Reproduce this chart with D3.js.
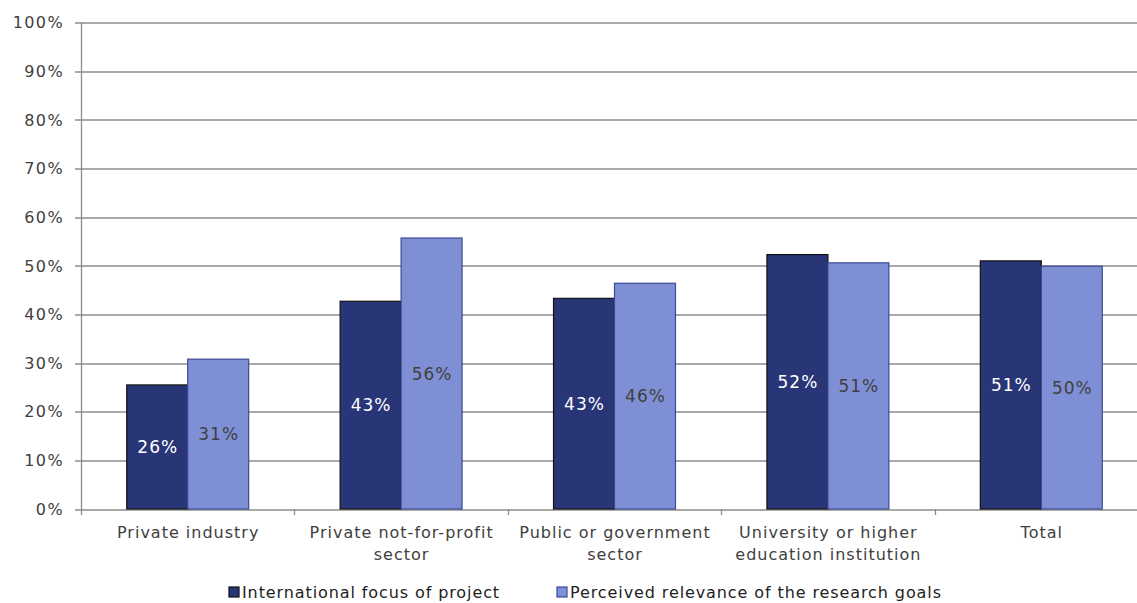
<!DOCTYPE html>
<html>
<head>
<meta charset="utf-8">
<script src="https://cdn.jsdelivr.net/npm/d3@7"></script>
<style>
  body { margin: 0; background: #fff; overflow: hidden; }
  svg { display: block; font-family: "DejaVu Sans", Verdana, sans-serif; }
</style>
</head>
<body>
<svg id="chart" width="1137" height="603"></svg>
<script>
// data
var categories = [
    ["Private industry"],
    ["Private not-for-profit", "sector"],
    ["Public or government", "sector"],
    ["University or higher", "education institution"],
    ["Total"]
];
var seriesNames = ["International focus of project", "Perceived relevance of the research goals"];
var focus = [25.5, 42.7, 43.3, 52.3, 51.0];
var relevance = [30.8, 55.7, 46.4, 50.6, 49.9];
var focusLabels = ["26%", "43%", "43%", "52%", "51%"];
var relevanceLabels = ["31%", "56%", "46%", "51%", "50%"];
var yTicks = [0, 10, 20, 30, 40, 50, 60, 70, 80, 90, 100];

var fills = ["#283577", "#7f8fd5"];
var strokes = ["#111111", "#3b4a95"];
var textCols = ["#ffffff", "#404040"];

var margin = {left: 81, top: 22.5};
var plotW = 1067, plotH = 486.5;

var svg = d3.select("#chart");
var g = svg.append("g").attr("transform", "translate(" + margin.left + "," + margin.top + ")");

var x = d3.scaleBand()
    .domain(d3.range(categories.length))
    .range([0, plotW]);

var x1 = d3.scaleBand()
    .domain([0, 1])
    .range([0, x.bandwidth()])
    .paddingOuter(0.75);

var y = d3.scaleLinear().domain([0, 100]).range([plotH, 0]);

// gridlines
g.append("g")
    .selectAll("line")
    .data(yTicks)
    .enter().append("line")
    .attr("x1", -6).attr("x2", plotW)
    .attr("y1", d => Math.round(y(d)) + 0.5)
    .attr("y2", d => Math.round(y(d)) + 0.5)
    .attr("stroke", "#8c8c8c")
    .attr("stroke-width", 1.3);

// y labels
g.append("g")
    .selectAll("text")
    .data(yTicks)
    .enter().append("text")
    .attr("x", -17)
    .attr("y", d => y(d))
    .attr("dy", "0.36em")
    .attr("text-anchor", "end")
    .attr("font-size", 16)
    .attr("letter-spacing", 1.4)
    .attr("fill", "#404040")
    .text(d => d + "%");

// y axis line
g.append("line")
    .attr("x1", 0.5).attr("x2", 0.5)
    .attr("y1", 0).attr("y2", plotH)
    .attr("stroke", "#8c8c8c").attr("stroke-width", 1.3);

// category ticks
g.append("g")
    .selectAll("line")
    .data(d3.range(categories.length + 1))
    .enter().append("line")
    .attr("x1", d => Math.round(d * x.step()) + 0.5)
    .attr("x2", d => Math.round(d * x.step()) + 0.5)
    .attr("y1", plotH).attr("y2", plotH + 6)
    .attr("stroke", "#8c8c8c").attr("stroke-width", 1.3);

var series = [
    {vals: focus, labels: focusLabels},
    {vals: relevance, labels: relevanceLabels}
];

series.forEach(function(s, si) {
    var grp = g.append("g");
    grp.selectAll("rect")
        .data(s.vals)
        .enter().append("rect")
        .attr("x", (d, i) => x(i) + x1(si))
        .attr("y", d => y(d))
        .attr("width", x1.bandwidth())
        .attr("height", d => plotH - y(d))
        .attr("fill", fills[si])
        .attr("stroke", strokes[si])
        .attr("stroke-width", 1.2);

    grp.selectAll("text")
        .data(s.vals)
        .enter().append("text")
        .attr("x", (d, i) => x(i) + x1(si) + x1.bandwidth() / 2 + 0.5)
        .attr("y", d => (y(d) + plotH) / 2)
        .attr("dy", "0.36em")
        .attr("text-anchor", "middle")
        .attr("font-size", 17)
        .attr("letter-spacing", 1)
        .attr("fill", textCols[si])
        .text((d, i) => s.labels[i]);
});

// category labels
var cat = g.append("g")
    .selectAll("text")
    .data(categories)
    .enter().append("text")
    .attr("x", (d, i) => x(i) + x.bandwidth() / 2 + 0.5)
    .attr("y", plotH + 29)
    .attr("text-anchor", "middle")
    .attr("font-size", 16)
    .attr("letter-spacing", 1)
    .attr("fill", "#404040");

cat.selectAll("tspan")
    .data(d => d)
    .enter().append("tspan")
    .attr("x", function() { return d3.select(this.parentNode).attr("x"); })
    .attr("dy", (d, i) => i === 0 ? 0 : 22)
    .text(d => d);

// legend
var legendX = [229, 557];
var legend = svg.append("g")
    .selectAll("g")
    .data(seriesNames)
    .enter().append("g")
    .attr("transform", (d, i) => "translate(" + legendX[i] + ",587)");

legend.append("rect")
    .attr("width", 10).attr("height", 10)
    .attr("fill", (d, i) => fills[i])
    .attr("stroke", (d, i) => strokes[i])
    .attr("stroke-width", 1.2);

legend.append("text")
    .attr("x", 13)
    .attr("y", 5)
    .attr("dy", "0.36em")
    .attr("font-size", 16)
    .attr("letter-spacing", 0.9)
    .attr("fill", "#222")
    .text(d => d);
</script>
</body>
</html>
